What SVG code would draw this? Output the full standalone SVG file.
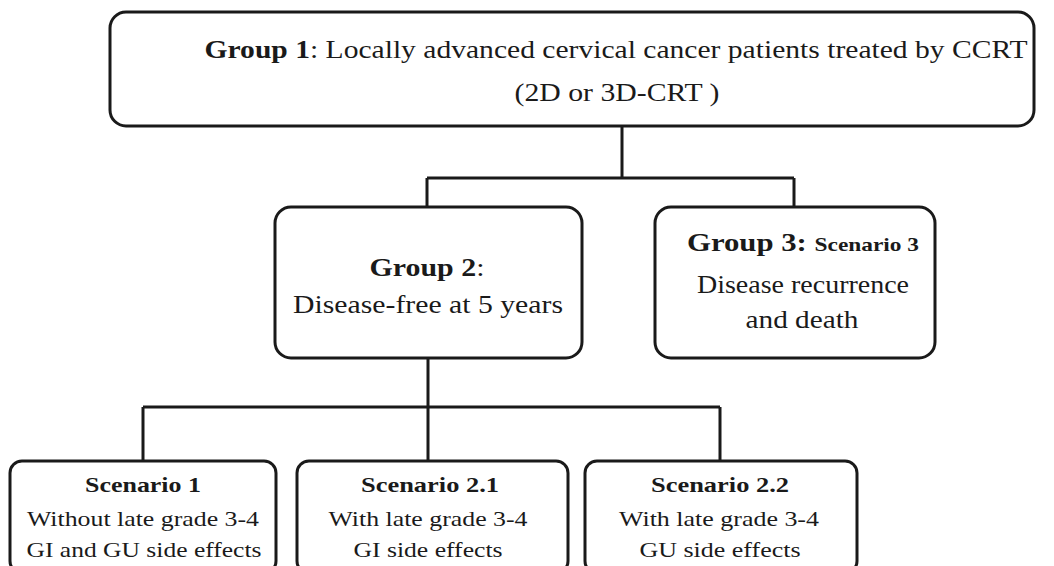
<svg xmlns="http://www.w3.org/2000/svg" width="1054" height="566" viewBox="0 0 1054 566">
<style>
.box{fill:#fff;stroke:#1a1a1a;stroke-width:3}
.ln{fill:none;stroke:#1a1a1a;stroke-width:3}
text{font-family:"Liberation Serif","Times New Roman",serif;fill:#1a1a1a;text-anchor:middle}
.g{font-size:25px}
.s{font-size:21px}
.b{font-weight:bold}
</style>
<rect width="1054" height="566" fill="#fff"/>
<g id="connectors">
<path class="ln" d="M622 126 V178 M427 178 H794 M427 178 V207 M794 178 V207"/>
<path class="ln" d="M428 358 V407 M143 407 H720 M143 407 V461 M428 407 V461 M720 407 V461"/>
</g>
<g id="group1">
<rect class="box" x="110" y="12" width="924" height="114" rx="16"/>
<text class="g" x="616" y="58" textLength="823" lengthAdjust="spacingAndGlyphs"><tspan class="b">Group 1</tspan>: Locally advanced cervical cancer patients treated by CCRT</text>
<text class="g" x="617" y="101" textLength="205" lengthAdjust="spacingAndGlyphs">(2D or 3D-CRT )</text>
</g>
<g id="group2">
<rect class="box" x="275" y="207" width="307" height="151" rx="16"/>
<text class="g" x="427" y="276" textLength="115" lengthAdjust="spacingAndGlyphs"><tspan class="b">Group 2</tspan>:</text>
<text class="g" x="428" y="313" textLength="270" lengthAdjust="spacingAndGlyphs">Disease-free at 5 years</text>
</g>
<g id="group3">
<rect class="box" x="655" y="207" width="280" height="151" rx="16"/>
<text class="g b" x="803" y="251" textLength="232" lengthAdjust="spacingAndGlyphs">Group 3: <tspan style="font-size:19px">Scenario 3</tspan></text>
<text class="g" x="803" y="293" textLength="212" lengthAdjust="spacingAndGlyphs">Disease recurrence</text>
<text class="g" x="802" y="328" textLength="113" lengthAdjust="spacingAndGlyphs">and death</text>
</g>
<g id="scenario1">
<rect class="box" x="10" y="461" width="266" height="112" rx="12"/>
<text class="s b" x="143" y="492" textLength="116" lengthAdjust="spacingAndGlyphs">Scenario 1</text>
<text class="s" x="143" y="526" textLength="232" lengthAdjust="spacingAndGlyphs">Without late grade 3-4</text>
<text class="s" x="144" y="557" textLength="235" lengthAdjust="spacingAndGlyphs">GI and GU side effects</text>
</g>
<g id="scenario21">
<rect class="box" x="297" y="461" width="271" height="112" rx="12"/>
<text class="s b" x="430" y="492" textLength="138" lengthAdjust="spacingAndGlyphs">Scenario 2.1</text>
<text class="s" x="428" y="526" textLength="199" lengthAdjust="spacingAndGlyphs">With late grade 3-4</text>
<text class="s" x="428" y="557" textLength="149" lengthAdjust="spacingAndGlyphs">GI side effects</text>
</g>
<g id="scenario22">
<rect class="box" x="585" y="461" width="272" height="112" rx="12"/>
<text class="s b" x="720" y="492" textLength="138" lengthAdjust="spacingAndGlyphs">Scenario 2.2</text>
<text class="s" x="719" y="526" textLength="200" lengthAdjust="spacingAndGlyphs">With late grade 3-4</text>
<text class="s" x="720" y="557" textLength="161" lengthAdjust="spacingAndGlyphs">GU side effects</text>
</g>
</svg>
